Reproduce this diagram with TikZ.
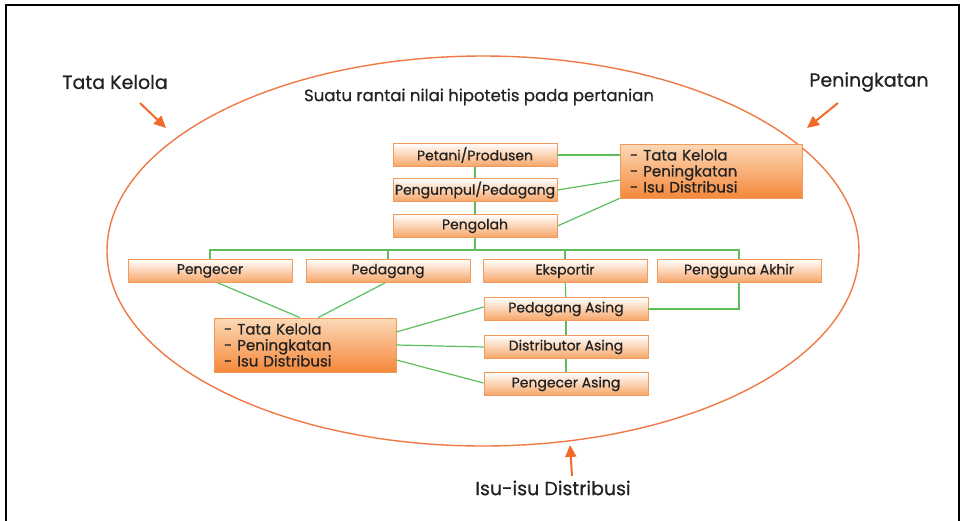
\documentclass[tikz,border=0pt]{standalone}
\usepackage{fontspec}
\setmainfont{Poppins}[FakeBold=0.6]
\usetikzlibrary{arrows.meta}
\definecolor{rim}{HTML}{F07A45}
\definecolor{arrowor}{HTML}{F26A2A}
\definecolor{boxedge}{HTML}{F29A5C}
\definecolor{boxlow}{HTML}{F7A566}
\definecolor{bigtop}{HTML}{FCD9B8}
\definecolor{biglow}{HTML}{F5883A}
\definecolor{link}{HTML}{5CBF5C}
\definecolor{ink}{HTML}{222222}
\tikzset{
  stage/.style={draw=boxedge, line width=0.8pt, top color=white, bottom color=boxlow,
    minimum width=164pt, minimum height=23pt, inner sep=0pt, font=\fontsize{14}{16}\selectfont, text=ink},
  notes/.style={draw=boxedge, line width=0.8pt, top color=bigtop, bottom color=biglow,
    minimum height=54pt, inner xsep=10pt, inner ysep=2pt, text width=162pt, align=left,
    font=\fontsize{15}{16}\selectfont, text=ink},
  tie/.style={draw=link, line width=1.2pt},
  pointer/.style={draw=arrowor, line width=2pt, -{Triangle[length=12pt,width=11pt]}},
  caption/.style={font=\fontsize{19}{22}\selectfont, text=ink}
}
\begin{document}
\begin{tikzpicture}[x=1pt,y=-1pt]
\useasboundingbox (0,0) rectangle (961,520);
% frame
\draw[line width=2.5pt, black] (6,522) -- (6,5) -- (959,5) -- (959,522);
% outer oval
\draw[rim, line width=1.4pt] (483,251) ellipse [x radius=376, y radius=195];
% title and outside labels
\node[font=\fontsize{16.5}{18}\selectfont, text=ink] (title) at (479,97) {Suatu rantai nilai hipotetis pada pertanian};
\node[caption] (gov) at (115,82) {Tata Kelola};
\node[caption] (upg) at (869,82) {Peningkatan};
\node[caption] (dist) at (553,488) {Isu-isu Distribusi};
\coordinate (govtip) at (166,128);
\coordinate (upgtip) at (807,128);
\coordinate (disttip) at (570,445);
\draw[pointer] (140,103) -- (govtip);
\draw[pointer] (838,103) -- (upgtip);
\draw[pointer] (572,476) -- (disttip);
% chain
\node[stage] (farm) at (475,155) {Petani/Produsen};
\node[stage] (coll) at (475,190) {Pengumpul/Pedagang};
\node[stage] (proc) at (475,226) {Pengolah};
\node[notes] (ntop) at (711,171) {- Tata Kelola\\- Peningkatan\\- Isu Distribusi};
\node[stage] (ret) at (210,271) {Pengecer};
\node[stage] (trd) at (388,271) {Pedagang};
\node[stage] (exp) at (565,271) {Eksportir};
\node[stage] (end) at (739,271) {Pengguna Akhir};
\node[stage] (ftrd) at (566,309) {Pedagang Asing};
\node[stage] (fdis) at (566,347) {Distributor Asing};
\node[stage] (fret) at (566,384) {Pengecer Asing};
\node[notes] (nlow) at (305,345) {- Tata Kelola\\- Peningkatan\\- Isu Distribusi};
% links
\coordinate (bus) at (475,250);
\draw[tie] (farm) -- (coll);
\draw[tie] (coll) -- (proc);
\draw[tie] (proc) -- (bus);
\draw[tie] (ret.north) |- (bus) -| (end.north);
\draw[tie] (trd.north) -- (trd.north |- bus);
\draw[tie] (exp.north) -- (exp.north |- bus);
\draw[tie] (farm.east) -- (ntop.west |- farm.east);
\draw[tie] (coll.east) -- ([yshift=-9pt]ntop.west);
\draw[tie] (proc.east) -- (ntop.south west);
\draw[tie] ([xshift=8pt]ret.south) -- ([xshift=-5pt]nlow.north);
\draw[tie] ([xshift=-3pt]trd.south) -- ([xshift=13pt]nlow.north);
\draw[tie] (exp) -- (ftrd);
\draw[tie] (end.south) |- (ftrd.east);
\draw[tie] (ftrd) -- (fdis);
\draw[tie] (fdis) -- (fret);
\draw[tie] ([yshift=13pt]nlow.east) -- ([yshift=2pt]ftrd.west);
\draw[tie] (nlow.east) -- (fdis.west);
\draw[tie] ([yshift=-15pt]nlow.east) -- ([yshift=1pt]fret.west);
\end{tikzpicture}
\end{document}
